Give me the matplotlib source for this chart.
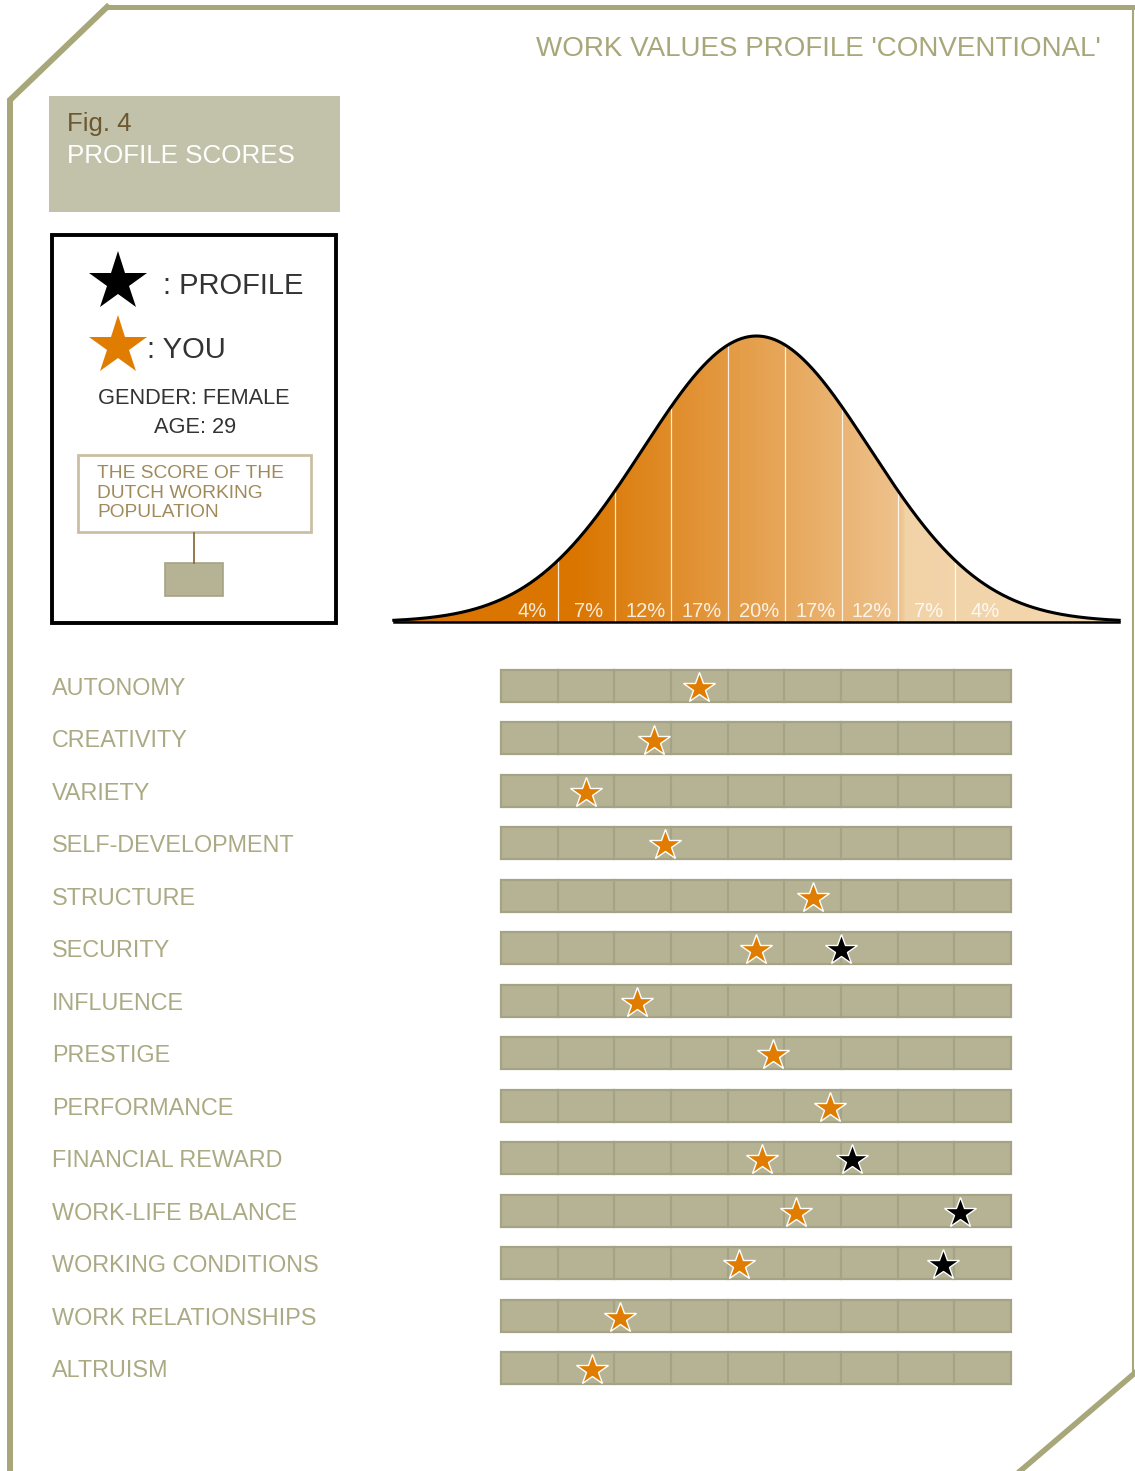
import numpy as np
import matplotlib
matplotlib.use("Agg")
import matplotlib.pyplot as plt
from matplotlib.colors import LinearSegmentedColormap
from matplotlib.patches import Rectangle, Polygon
import matplotlib.transforms as mtransforms

plt.rcParams['font.family'] = ['Liberation Sans', 'DejaVu Sans']

# ---- data ----
values = ["AUTONOMY", "CREATIVITY", "VARIETY", "SELF-DEVELOPMENT", "STRUCTURE",
          "SECURITY", "INFLUENCE", "PRESTIGE", "PERFORMANCE", "FINANCIAL REWARD",
          "WORK-LIFE BALANCE", "WORKING CONDITIONS", "WORK RELATIONSHIPS", "ALTRUISM"]
you_scores = [4.0, 3.2, 2.0, 3.4, 6.0, 5.0, 2.9, 5.3, 6.3, 5.1, 5.7, 4.7, 2.6, 2.1]
profile_scores = [None, None, None, None, None, 6.5, None, None, None, 6.7,
                  8.6, 8.3, None, None]
stanine_pct = [4, 7, 12, 17, 20, 17, 12, 7, 4]
stanine_edges = [-1.75, -1.25, -0.75, -0.25, 0.25, 0.75, 1.25, 1.75]

W, H = 1135, 1471
olive = '#a8a77a'
label_col = '#abaa84'
bar_fill = '#b5b394'
bar_edge = '#a5a386'
orange = '#e07d00'


def fig_rect(x0, y0, x1, y1):
    # pixel box (top-left origin) -> figure fraction rect
    return [x0 / W, 1 - y1 / H, (x1 - x0) / W, (y1 - y0) / H]


fig = plt.figure(figsize=(W / 100, H / 100), dpi=100)

# ---- overlay for frame and boxes (pixel coordinates) ----
bg = fig.add_axes([0, 0, 1, 1])
bg.set_xlim(0, W)
bg.set_ylim(H, 0)
bg.axis('off')

bg.plot([107, 1135], [7, 7], color=olive, lw=3.6, solid_capstyle='butt')
bg.plot([107, 10, 10], [7, 100, 1471], color=olive, lw=4.3, solid_joinstyle='miter')
bg.plot([1133, 1133], [7, 1374], color=olive, lw=1.5)
bg.plot([1136, 1019], [1372, 1472], color=olive, lw=4.0)

bg.text(1101, 56, "WORK VALUES PROFILE 'CONVENTIONAL'", color=olive,
        fontsize=20, ha='right', va='baseline')

bg.add_patch(Rectangle((49, 96), 291, 116, facecolor='#c2c2aa', edgecolor='none'))
bg.text(67, 131, "Fig. 4", color='#6b5730', fontsize=18.5, va='baseline')
bg.text(67, 163, "PROFILE SCORES", color='white', fontsize=18.7, va='baseline')

bg.add_patch(Rectangle((52, 235), 284, 388, facecolor='white', edgecolor='black', lw=2.8))
bg.plot([118], [282], marker='*', color='black', markersize=44, markeredgewidth=0)
bg.plot([118], [346], marker='*', color=orange, markersize=44, markeredgewidth=0)
bg.text(163, 294, ": PROFILE", color='#333333', fontsize=21, va='baseline')
bg.text(147, 358, ": YOU", color='#333333', fontsize=21, va='baseline')
bg.text(194, 404, "GENDER: FEMALE", color='#333333', fontsize=15.7, ha='center', va='baseline')
bg.text(195, 433, "AGE: 29", color='#333333', fontsize=15.7, ha='center', va='baseline')
bg.add_patch(Rectangle((78, 455), 233, 77, facecolor='white', edgecolor='#cbbfa3', lw=2))
for k, line in enumerate(["THE SCORE OF THE", "DUTCH WORKING", "POPULATION"]):
    bg.text(97, 478 + k * 19.5, line, color='#a08a5a', fontsize=13.8, va='baseline')
bg.plot([194, 194], [533, 563], color='#8a6d3e', lw=1.3)
bg.add_patch(Rectangle((165, 563), 58, 33, facecolor=bar_fill, edgecolor=bar_edge, lw=1.2))

# ---- bell curve ----
sd_px = 56.67 / 0.5
cx = 756.5
zl, zr = -3.2, 3.2
ax_b = fig.add_axes(fig_rect(cx + zl * sd_px, 320, cx + zr * sd_px, 622))
z = np.linspace(zl, zr, 600)
pdf = np.exp(-z ** 2 / 2) / np.sqrt(2 * np.pi)
ymax = pdf.max() * (622 - 320) / (622 - 336)
ax_b.set_xlim(zl, zr)
ax_b.set_ylim(0, ymax)
ax_b.axis('off')

cmap = LinearSegmentedColormap.from_list('bell', [
    (0.0, '#da7500'), (0.25, '#da7600'), (0.70, '#eec38e'),
    (0.705, '#f2d3a8'), (1.0, '#f4d8b0')])
grad = np.linspace(0, 1, 512).reshape(1, -1)
im = ax_b.imshow(grad, extent=[zl, zr, 0, ymax], aspect='auto', cmap=cmap,
                 origin='lower', zorder=1)
poly = Polygon(np.column_stack([np.r_[z, zr, zl], np.r_[pdf, 0, 0]]),
               facecolor='none', edgecolor='none', transform=ax_b.transData)
ax_b.add_patch(poly)
im.set_clip_path(poly)

for e in stanine_edges:
    ax_b.plot([e, e], [0, np.exp(-e ** 2 / 2) / np.sqrt(2 * np.pi)],
              color='white', lw=0.9, alpha=0.85, zorder=2)
for k, p in enumerate(stanine_pct):
    ax_b.text(-2 + 0.5 * k + 0.02, 0.007, f"{p}%", color='white', alpha=0.85,
              fontsize=14.5, ha='center', va='baseline', zorder=3)
ax_b.plot(z, pdf, color='black', lw=2.2, zorder=4, clip_on=False)
ax_b.plot([zl, zr], [0, 0], color='black', lw=1.8, zorder=4, clip_on=False)

# ---- score bars ----
n = len(values)
row_h = (1368 - 686) / (n - 1)
ax = fig.add_axes(fig_rect(501, 686 - row_h / 2, 1011, 1368 + row_h / 2))
ax.set_xlim(0.5, 9.5)
ax.set_ylim(n - 0.5, -0.5)
ax.axis('off')
bh = 32 / row_h
for i in range(n):
    ax.add_patch(Rectangle((0.5, i - bh / 2), 9, bh, facecolor=bar_fill,
                           edgecolor=bar_edge, lw=1.6, clip_on=False, zorder=1))
    for s in range(1, 9):
        ax.plot([s + 0.5, s + 0.5], [i - bh / 2, i + bh / 2], color=bar_edge,
                lw=1.6, zorder=2, clip_on=False)

ypos = np.arange(n)
ax.plot(you_scores, ypos + 0.04, ls='none', marker='*', markersize=23.5,
        color=orange, markeredgecolor='white', markeredgewidth=1.0,
        zorder=4, clip_on=False)
prof_x = [p for p in profile_scores if p is not None]
prof_y = [i + 0.04 for i, p in enumerate(profile_scores) if p is not None]
ax.plot(prof_x, prof_y, ls='none', marker='*', markersize=23.5,
        color='black', markeredgecolor='white', markeredgewidth=1.0,
        zorder=4, clip_on=False)

lab_tr = mtransforms.blended_transform_factory(fig.transFigure, ax.transData)
for i, name in enumerate(values):
    ax.text(52 / W, i + 9.0 / row_h, name, transform=lab_tr, color=label_col,
            fontsize=16.8, ha='left', va='baseline')

fig.savefig('out.png', dpi=100, facecolor='white')
